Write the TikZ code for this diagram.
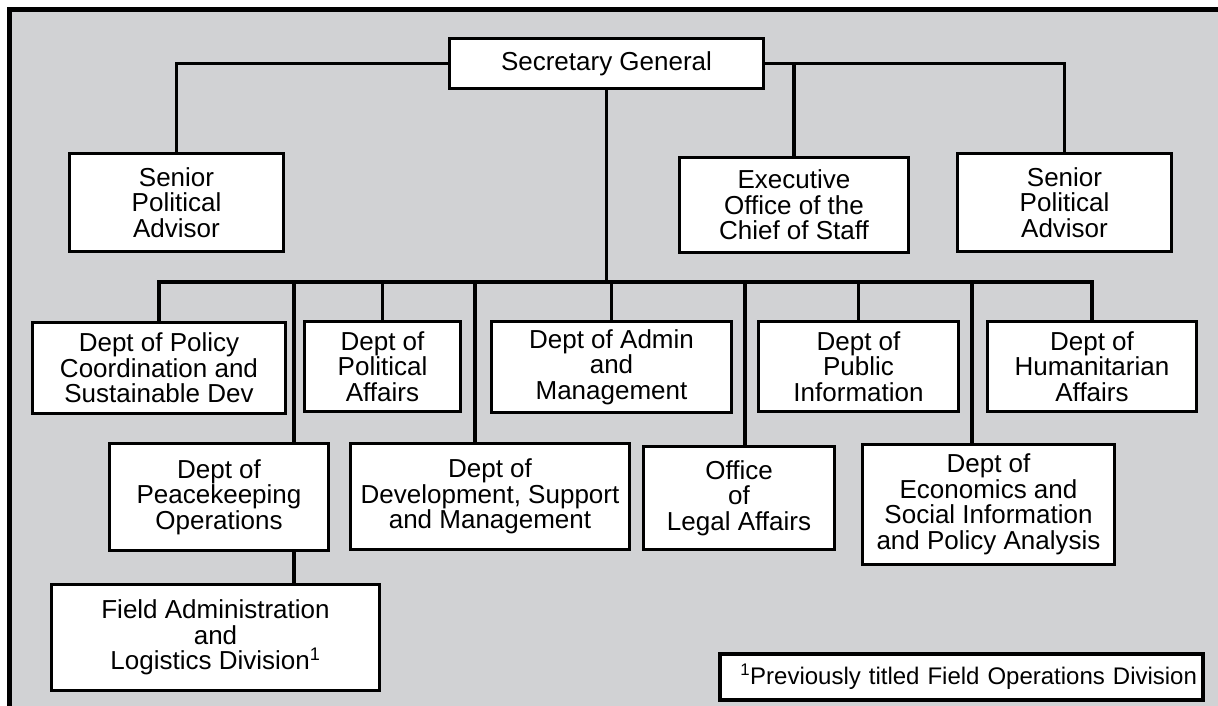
\documentclass[tikz,border=0pt]{standalone}
\usepackage{fontspec}
\setmainfont{Liberation Sans}
\definecolor{bggray}{RGB}{209,210,212}
\begin{document}
\begin{tikzpicture}[x=1pt,y=-1pt,
  box/.style={draw=black,fill=white,line width=2.6pt,rectangle,inner sep=0pt,outer sep=0pt,
    align=center,font=\fontsize{26}{25.5}\selectfont},
  conn/.style={line width=3.2pt,line cap=rect}]
\useasboundingbox (0,0) rectangle (1218,706);
\fill[white] (0,0) rectangle (1218,706);
\fill[bggray] (7,7) rectangle (1218,706);
\draw[line width=5pt] (9.5,706) -- (9.5,9.5) -- (1218,9.5);

% nodes
\node[box,minimum width=314pt,minimum height=50pt] (sg) at (606.5,63.5) {Secretary General};
\node[box,minimum width=214pt,minimum height=98pt] (spa1) at (176.5,202.5) {Senior\\Political\\Advisor};
\node[box,minimum width=229pt,minimum height=95pt] (exec) at (794,205) {Executive\\Office of the\\Chief of Staff};
\node[box,minimum width=214pt,minimum height=98pt] (spa2) at (1064.5,202.5) {Senior\\Political\\Advisor};

\node[box,minimum width=253pt,minimum height=91pt] (policy) at (159,368) {Dept of Policy\\Coordination and\\Sustainable Dev};
\node[box,minimum width=156pt,minimum height=90pt] (polit) at (382.5,366.5) {Dept of\\Political\\Affairs};
\node[box,minimum width=240pt,minimum height=91pt] (admin) at (611.5,367) {Dept of Admin\\and\\Management};
\node[box,minimum width=200pt,minimum height=90pt] (public) at (858.5,366.5) {Dept of\\Public\\Information};
\node[box,minimum width=209pt,minimum height=90pt] (human) at (1092,366.5) {Dept of\\Humanitarian\\Affairs};

\node[box,minimum width=219pt,minimum height=107pt] (peace) at (219,497) {Dept of\\Peacekeeping\\Operations};
\node[box,minimum width=279pt,minimum height=106pt] (dev) at (490,496.5) {Dept of\\Development, Support\\and Management};
\node[box,minimum width=191pt,minimum height=103pt] (legal) at (739,498) {Office\\of\\Legal Affairs};
\node[box,minimum width=252pt,minimum height=120pt] (econ) at (988.5,504.5) {Dept of\\Economics and\\Social Information\\and Policy Analysis};

\node[box,minimum width=328pt,minimum height=106pt] (field) at (215.5,637.5) {Field Administration\\and\\Logistics Division\textsuperscript{1}};

\node[box,line width=4pt,minimum width=483pt,minimum height=46pt,text width=471pt,align=right,
  font=\fontsize{24}{24}\selectfont] (fn) at (961.5,677) {\textsuperscript{1}Previously titled Field Operations Division};

% connectors
\draw[conn] (sg.west) -| (spa1.north);
\draw[conn] (sg.east) -| (spa2.north);
\draw[conn] (sg.east) -| (exec.north);

\coordinate (bus) at (606.5,282);
\coordinate (d1) at (294,282);
\coordinate (d2) at (475,282);
\coordinate (d3) at (745,282);
\coordinate (d4) at (972,282);

\draw[conn] (sg.south) -- (bus);
\draw[conn] (policy.north) -- (policy.north |- bus) -- (human.north |- bus) -- (human.north);
\draw[conn] (polit.north) -- (polit.north |- bus);
\draw[conn] (admin.north) -- (admin.north |- bus);
\draw[conn] (public.north) -- (public.north |- bus);
\draw[conn] (d1) -- (d1 |- peace.north);
\draw[conn] (d2) -- (d2 |- dev.north);
\draw[conn] (d3) -- (d3 |- legal.north);
\draw[conn] (d4) -- (d4 |- econ.north);
\draw[conn] (d1 |- peace.south) -- (d1 |- field.north);
\end{tikzpicture}
\end{document}
